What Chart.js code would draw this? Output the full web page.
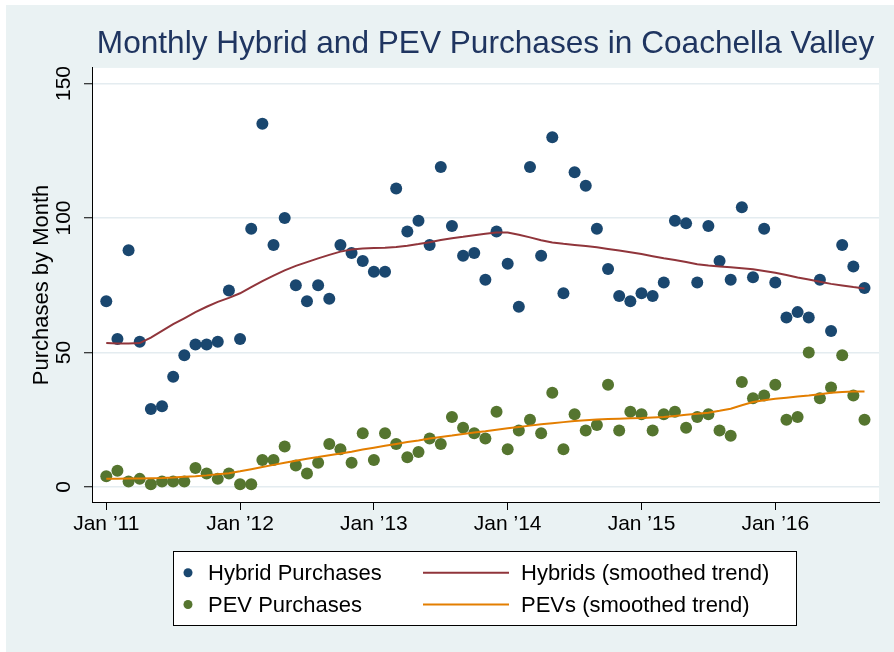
<!DOCTYPE html>
<html>
<head>
<meta charset="utf-8">
<script src="https://cdn.jsdelivr.net/npm/chart.js@4"></script>
<style>
  body { margin: 0; background: #fff; }
  #wrap { position: absolute; left: 6px; top: 5px; width: 888px; height: 647px; background: #eaf2f3; }
</style>
</head>
<body>
<div id="wrap"><canvas id="PurchaseBox"></canvas></div>
<script>
        // Months are counted from Jan 2011 (0) to Sep 2016 (68)
        const xTickMonths = [0, 12, 24, 36, 48, 60];
        const xTickLabels = ['Jan ’11', 'Jan ’12', 'Jan ’13', 'Jan ’14', 'Jan ’15', 'Jan ’16'];
        const yTicks = [0, 50, 100, 150];

        const hybridPurchases = [69, 55, 88, 54, 29, 30, 41, 49, 53, 53,
            54, 73, 55, 96, 135, 90, 100, 75, 69, 75,
            70, 90, 87, 84, 80, 80, 111, 95, 99, 90,
            119, 97, 86, 87, 77, 95, 83, 67, 119, 86,
            130, 72, 117, 112, 96, 81, 71, 69, 72, 71,
            76, 99, 98, 76, 97, 84, 77, 104, 78, 96,
            76, 63, 65, 63, 77, 58, 90, 82, 74];
        const pevPurchases = [4, 6, 2, 3, 1, 2, 2, 2, 7, 5,
            3, 5, 1, 1, 10, 10, 15, 8, 5, 9,
            16, 14, 9, 20, 10, 20, 16, 11, 13, 18,
            16, 26, 22, 20, 18, 28, 14, 21, 25, 20,
            35, 14, 27, 21, 23, 38, 21, 28, 27, 21,
            27, 28, 22, 26, 27, 21, 19, 39, 33, 34,
            38, 25, 26, 50, 33, 37, 49, 34, 25];
        const hybridTrend = [53.5, 53.3, 53.3, 53.5, 55.5, 58, 60.5, 62.7, 65, 67,
            68.8, 70.3, 72, 74.3, 76.5, 78.6, 80.5, 82.2, 83.6, 85,
            86.3, 87.5, 88.3, 88.7, 88.8, 88.9, 89.2, 89.7, 90.3, 91,
            91.8, 92.5, 93, 93.6, 94.1, 94.6, 94.6, 93.8, 92.8, 91.7,
            90.9, 90.4, 90, 89.6, 89.1, 88.5, 87.9, 87.3, 86.6, 85.8,
            85, 84.4, 83.6, 82.8, 82.3, 82, 81.7, 81.3, 80.9, 80.3,
            79.6, 78.8, 77.9, 77.1, 76.3, 75.5, 74.9, 74.3, 73.8];
        const pevTrend = [3, 3, 3.1, 3.1, 3.2, 3.3, 3.5, 3.8, 4, 4.3,
            4.7, 5.1, 5.8, 6.6, 7.4, 8.2, 9, 9.7, 10.5, 11.1,
            11.8, 12.4, 13.1, 13.9, 14.6, 15.3, 16, 16.7, 17.3, 18,
            18.6, 19.1, 19.7, 20.2, 20.7, 21.3, 21.8, 22.3, 22.8, 23.3,
            23.7, 24.1, 24.5, 24.8, 25.1, 25.3, 25.4, 25.5, 25.6, 25.8,
            26, 26.4, 26.8, 27.2, 27.6, 28.3, 29.1, 30.4, 31.6, 32.2,
            32.8, 33.2, 33.6, 34, 34.5, 35, 35.3, 35.5, 35.5];

        const FONT = "'Liberation Sans', Arial, sans-serif";
        Chart.defaults.font.family = FONT;
        Chart.defaults.color = '#000';

        function toPoints(values) {
            return values.map((v, i) => ({ x: i, y: v }));
        }

        const PurchaseData = {
            datasets: [{
                label: 'Hybrid Purchases',
                data: toPoints(hybridPurchases),
                backgroundColor: '#1a476f',
                pointRadius: 6,
                pointBorderWidth: 0,
                order: 2
            },
            {
                label: 'PEV Purchases',
                data: toPoints(pevPurchases),
                backgroundColor: '#55752f',
                pointRadius: 6,
                pointBorderWidth: 0,
                order: 2
            },
            {
                label: 'Hybrids (smoothed trend)',
                data: toPoints(hybridTrend),
                borderColor: '#90353b',
                backgroundColor: '#90353b',
                borderWidth: 2,
                showLine: true,
                pointRadius: 0,
                order: 1
            },
            {
                label: 'PEVs (smoothed trend)',
                data: toPoints(pevTrend),
                borderColor: '#e37e00',
                backgroundColor: '#e37e00',
                borderWidth: 2,
                showLine: true,
                pointRadius: 0,
                order: 1
            }]
        };

        // white plot region
        const plotBackground = {
            id: 'plotBackground',
            beforeDraw(chart) {
                const a = chart.chartArea;
                chart.ctx.save();
                chart.ctx.fillStyle = '#fff';
                chart.ctx.fillRect(a.left, a.top, a.right - a.left, a.bottom - a.top);
                chart.ctx.restore();
            }
        };

        // boxed 2x2 legend under the plot
        const boxLegend = {
            id: 'boxLegend',
            afterDraw(chart) {
                const ctx = chart.ctx;
                const ds = chart.data.datasets;
                ctx.save();
                ctx.fillStyle = '#fff';
                ctx.fillRect(167.5, 546.5, 623, 74);
                ctx.strokeStyle = '#000';
                ctx.lineWidth = 1;
                ctx.strokeRect(167.5, 546.5, 623, 74);
                ctx.font = '22px ' + FONT;
                ctx.textBaseline = 'middle';
                const rows = [567.7, 599.5];
                [ds[0], ds[1]].forEach((d, i) => {
                    ctx.fillStyle = d.backgroundColor;
                    ctx.beginPath();
                    ctx.arc(182, rows[i], 4.5, 0, Math.PI * 2);
                    ctx.fill();
                    ctx.fillStyle = '#000';
                    ctx.fillText(d.label, 202, rows[i] + 1);
                });
                [ds[2], ds[3]].forEach((d, i) => {
                    ctx.strokeStyle = d.borderColor;
                    ctx.lineWidth = 2;
                    ctx.beginPath();
                    ctx.moveTo(417, rows[i]);
                    ctx.lineTo(503, rows[i]);
                    ctx.stroke();
                    ctx.fillStyle = '#000';
                    ctx.fillText(d.label, 515, rows[i] + 1);
                });
                ctx.restore();
            }
        };

        const PurchaseConfig = {
            type: 'scatter',
            data: PurchaseData,
            plugins: [plotBackground, boxLegend],
            options: {
                responsive: true,
                maintainAspectRatio: false,
                animation: false,
                layout: { padding: { top: 0, left: 0, right: 15, bottom: 110 } },
                scales: {
                    x: {
                        type: 'linear',
                        min: -1.28,
                        max: 69.3,
                        afterBuildTicks: (s) => { s.ticks = xTickMonths.map(v => ({ value: v })); },
                        afterFit: (s) => { s.height = 40; },
                        ticks: {
                            callback: (value, index) => xTickLabels[index],
                            font: { size: 21 },
                            color: '#000',
                            padding: 2,
                            minRotation: 0,
                            maxRotation: 0
                        },
                        grid: { drawOnChartArea: false, tickLength: 8, tickColor: '#000', tickWidth: 1 },
                        border: { color: '#000', width: 1 }
                    },
                    y: {
                        min: -5.6,
                        max: 155.8,
                        afterBuildTicks: (s) => { s.ticks = yTicks.map(v => ({ value: v })); },
                        afterFit: (s) => { s.width = 86; },
                        ticks: {
                            font: { size: 21 },
                            color: '#000',
                            padding: 2,
                            minRotation: 90,
                            maxRotation: 90,
                            crossAlign: 'center'
                        },
                        grid: { color: '#e4ecf0', lineWidth: 1.5, tickLength: 8, tickColor: '#000', tickWidth: 1 },
                        border: { color: '#000', width: 1 },
                        title: {
                            display: true,
                            text: 'Purchases by Month',
                            font: { size: 22 },
                            color: '#000',
                            padding: { top: 23, bottom: 0 }
                        }
                    }
                },
                plugins: {
                    legend: { display: false },
                    tooltip: { enabled: false },
                    title: {
                        display: true,
                        fullSize: false,
                        text: 'Monthly Hybrid and PEV Purchases in Coachella Valley',
                        color: '#1f3560',
                        font: { size: 31.6, weight: 'normal' },
                        padding: { top: 20, bottom: 5 }
                    }
                }
            }
        };

        window.onload = function() {
            const ctx = document.getElementById('PurchaseBox').getContext('2d');
            new Chart(ctx, PurchaseConfig);
        };
</script>
</body>
</html>
